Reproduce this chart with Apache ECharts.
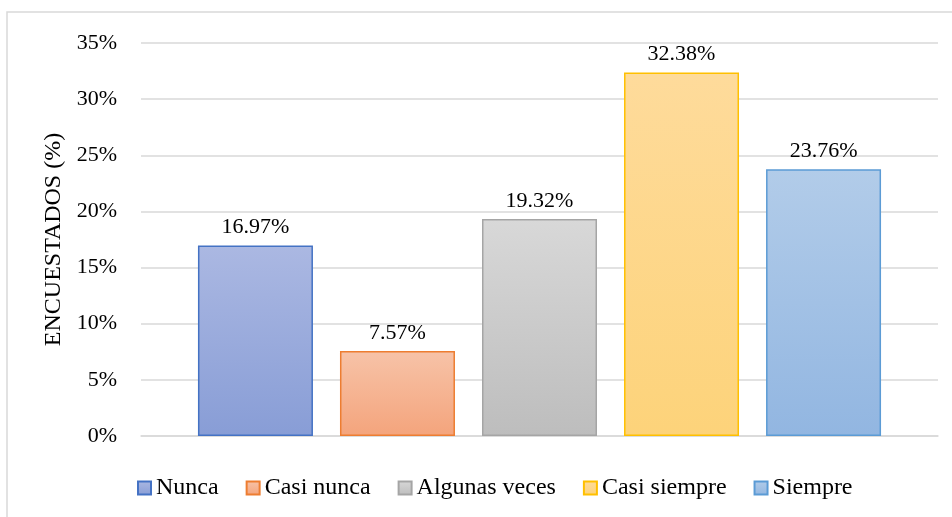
<!DOCTYPE html>
<html>
<head>
<meta charset="utf-8">
<script src="https://cdn.jsdelivr.net/npm/echarts@6/dist/echarts.min.js"></script>
<style>
  html, body { margin: 0; padding: 0; background: #ffffff; }
  #chart { width: 952px; height: 517px; }
</style>
</head>
<body>
<div id="chart"></div>
<script>
// Survey responses, percentage of respondents per answer
const seriesNames = ['Nunca', 'Casi nunca', 'Algunas veces', 'Casi siempre', 'Siempre'];
const percentValues = [16.97, 7.57, 19.32, 32.38, 23.76];
const categories = [''];
const yTicks = { min: 0, max: 35, interval: 5 };

// Fill gradients (top, bottom) and outline colours per answer
const fillTop = ['#abb8e2', '#f7c3a8', '#d8d8d8', '#fedb9b', '#b2cce9'];
const fillBottom = ['#889dd6', '#f4a47c', '#bdbdbd', '#fdd37a', '#92b6e1'];
const borderColors = ['#4472c4', '#ed7d31', '#a5a5a5', '#ffc000', '#5b9bd5'];

const FONT = '"Liberation Serif", "Times New Roman", serif';

const chart = echarts.init(document.getElementById('chart'), null, { renderer: 'canvas' });

const series = seriesNames.map((name, i) => ({
  name: name,
  type: 'bar',
  data: [percentValues[i]],
  barWidth: 115,
  barGap: '23.5%',
  itemStyle: {
    color: new echarts.graphic.LinearGradient(0, 0, 0, 1, [
      { offset: 0, color: fillTop[i] },
      { offset: 1, color: fillBottom[i] }
    ]),
    borderColor: borderColors[i],
    borderWidth: 1.5
  },
  label: {
    show: true,
    position: 'top',
    distance: 7,
    color: '#000',
    fontFamily: FONT,
    fontSize: 22,
    formatter: p => p.value.toFixed(2) + '%'
  }
}));

chart.setOption({
  animation: false,
  backgroundColor: '#ffffff',
  graphic: [{
    type: 'rect',
    shape: { x: 7, y: 12, width: 1000, height: 600 },
    style: { fill: 'none', stroke: '#d9d9d9', lineWidth: 1.5 },
    silent: true,
    z: -1
  }],
  grid: { left: 141, right: 14, top: 43, bottom: 81, containLabel: false },
  legend: {
    data: seriesNames,
    top: 471,
    left: 132,
    icon: 'rect',
    itemWidth: 13,
    itemHeight: 13,
    itemGap: 27,
    textStyle: { fontFamily: FONT, fontSize: 24, color: '#000' }
  },
  xAxis: {
    type: 'category',
    data: categories,
    axisLine: { show: true, lineStyle: { color: '#d9d9d9', width: 1.5 } },
    axisTick: { show: false },
    axisLabel: { show: false }
  },
  yAxis: {
    type: 'value',
    min: yTicks.min,
    max: yTicks.max,
    interval: yTicks.interval,
    name: 'ENCUESTADOS (%)',
    nameLocation: 'middle',
    nameGap: 63,
    nameTextStyle: { fontFamily: FONT, fontSize: 24, color: '#000' },
    axisLine: { show: false },
    axisTick: { show: false },
    axisLabel: {
      formatter: '{value}%',
      margin: 24,
      fontFamily: FONT,
      fontSize: 22,
      color: '#000'
    },
    splitLine: { lineStyle: { color: '#d9d9d9', width: 1.5 } }
  },
  series: series
});
</script>
</body>
</html>
